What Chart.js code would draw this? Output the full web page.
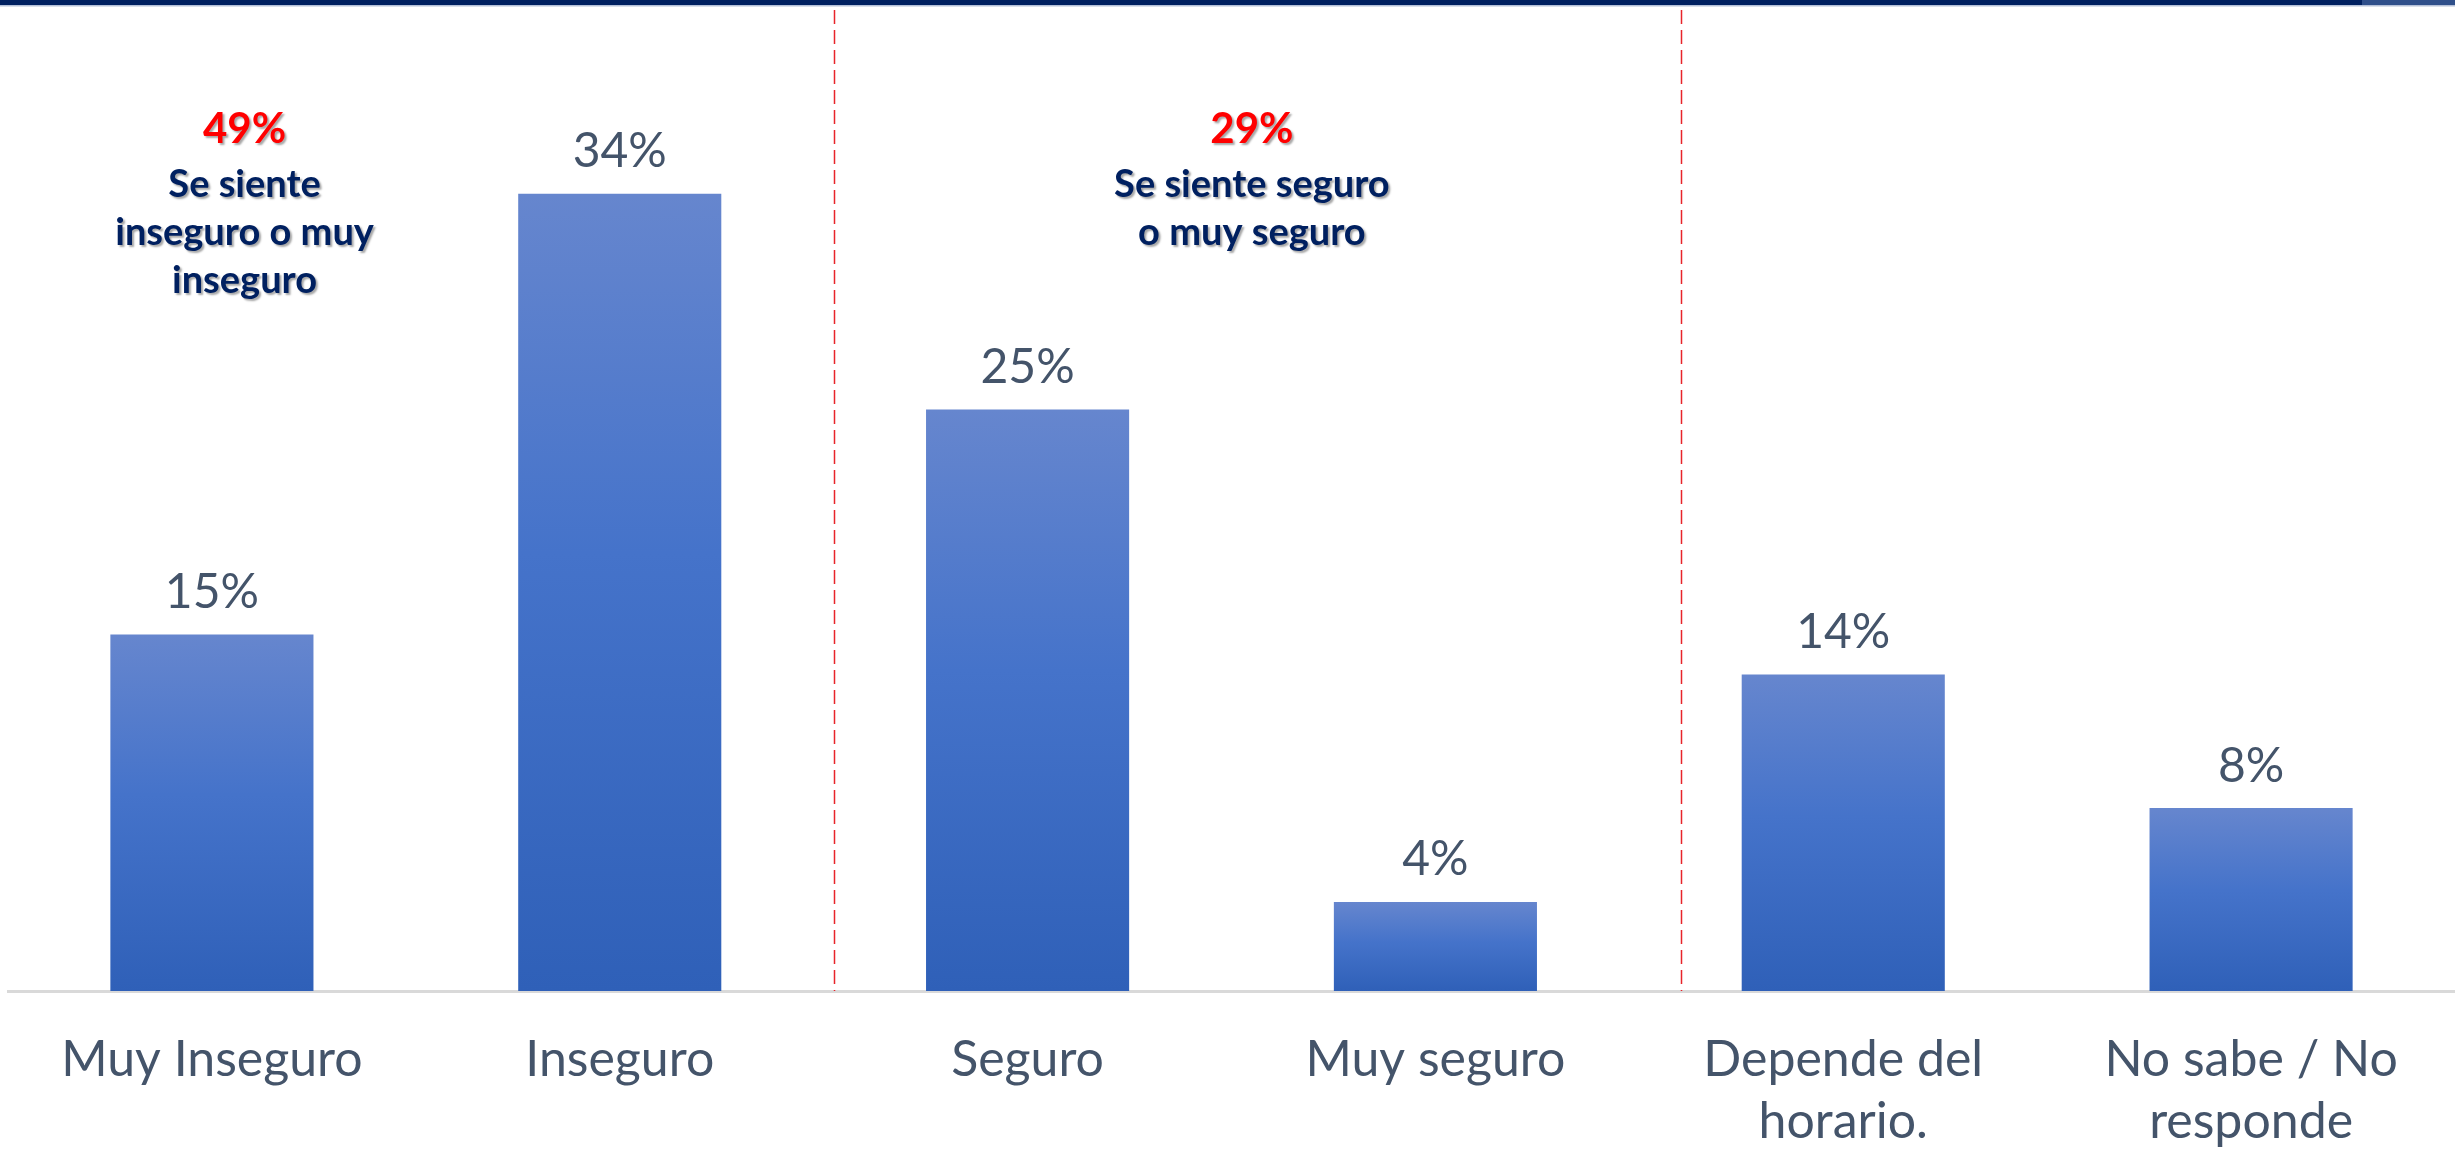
<!DOCTYPE html>
<html>
<head>
<meta charset="utf-8">
<script src="https://cdn.jsdelivr.net/npm/chart.js@4.4.1/dist/chart.umd.min.js"></script>
<style>
  html, body { margin: 0; padding: 0; background: #ffffff; }
  #wrap { width: 2455px; height: 1152px; position: relative; }
</style>
</head>
<body>
<div id="wrap"><canvas id="chart" width="2455" height="1152"></canvas></div>
<script>
var categories = [['Muy Inseguro'], ['Inseguro'], ['Seguro'], ['Muy seguro'], ['Depende del', 'horario.'], ['No sabe / No', 'responde']];
var values = [15.2, 34, 24.8, 3.8, 13.5, 7.8]; // percent (labels are rounded)
var groupTotals = ['49%', '29%'];
var groupTexts = [['Se siente', 'inseguro o muy', 'inseguro'], ['Se siente seguro', 'o muy seguro']];
var groupPos = [0.08, 2.55]; // category index where each group note sits
var dividerPos = [1.525, 3.602]; // category index of the red dashed lines

var labelColor = '#44546A';

function barGradient(context) {
  var chart = context.chart;
  var y = chart.scales.y;
  if (!y || context.raw == null) return '#4472C4';
  var top = y.getPixelForValue(context.raw);
  var base = y.getPixelForValue(0);
  if (!isFinite(top) || !isFinite(base) || top === base) return '#4472C4';
  var g = chart.ctx.createLinearGradient(0, top, 0, base);
  g.addColorStop(0, '#6686CE');
  g.addColorStop(0.45, '#4573CA');
  g.addColorStop(1, '#2F60B8');
  return g;
}

// header strip, dividers, value labels and group notes
var decorations = {
  id: 'decorations',
  beforeDraw: function (chart) {
    var ctx = chart.ctx;
    ctx.save();
    ctx.fillStyle = '#002060';
    ctx.fillRect(0, 0, chart.width, 5);
    ctx.fillStyle = '#2F4F8A';
    ctx.fillRect(2362, 0, chart.width - 2362, 5);
    ctx.fillStyle = '#B4C0D8';
    ctx.fillRect(0, 5, chart.width, 1.5);
    ctx.restore();
  },
  afterDatasetsDraw: function (chart) {
    var ctx = chart.ctx;
    var x = chart.scales.x;
    var area = chart.chartArea;
    ctx.save();

    // red dashed dividers
    ctx.strokeStyle = '#E8242B';
    ctx.lineWidth = 1.5;
    ctx.setLineDash([14, 6]);
    dividerPos.forEach(function (p) {
      var px = Math.round(x.getPixelForValue(p)) + 0.5;
      ctx.beginPath();
      ctx.moveTo(px, 10);
      ctx.lineTo(px, area.bottom);
      ctx.stroke();
    });
    ctx.setLineDash([]);

    // value labels
    ctx.fillStyle = labelColor;
    ctx.font = '48px Lato';
    ctx.textAlign = 'center';
    ctx.textBaseline = 'middle';
    chart.getDatasetMeta(0).data.forEach(function (bar, i) {
      ctx.fillText(Math.round(values[i]) + '%', bar.x, bar.y - 42);
    });

    // group notes
    ctx.shadowColor = 'rgba(0,0,0,0.35)';
    ctx.shadowOffsetX = 2;
    ctx.shadowOffsetY = 2;
    ctx.shadowBlur = 2;
    groupTotals.forEach(function (t, gi) {
      var cx = x.getPixelForValue(groupPos[gi]);
      ctx.font = 'bold 42px Lato';
      ctx.fillStyle = '#FF0000';
      ctx.fillText(t, cx, 129);
      ctx.font = 'bold 38px Lato';
      ctx.fillStyle = '#002060';
      groupTexts[gi].forEach(function (line, li) {
        ctx.fillText(line, cx, 185 + li * 48);
      });
    });
    ctx.restore();
  }
};

function build() {
  var ctx = document.getElementById('chart').getContext('2d');
  window.myChart = new Chart(ctx, {
    type: 'bar',
    data: {
      labels: categories,
      datasets: [{
        label: 'Percepción de seguridad',
        data: values,
        backgroundColor: barGradient,
        borderWidth: 0,
        barPercentage: 0.498,
        categoryPercentage: 1
      }]
    },
    options: {
      responsive: false,
      animation: false,
      devicePixelRatio: 1,
      layout: { padding: { top: 53, left: 8, right: 0, bottom: 0 } },
      plugins: {
        legend: { display: false },
        tooltip: { enabled: false }
      },
      scales: {
        x: {
          grid: { display: false, drawTicks: false },
          border: { display: true, color: '#D9D9D9', width: 3 },
          ticks: {
            color: labelColor,
            font: { family: 'Lato', size: 50, lineHeight: 1.24 },
            padding: 38,
            maxRotation: 0,
            autoSkip: false
          },
          afterFit: function (scale) { scale.height = 161; }
        },
        y: {
          display: false,
          min: 0,
          max: 40
        }
      }
    },
    plugins: [decorations]
  });
}

Promise.all([
  document.fonts.load('50px Lato'),
  document.fonts.load('bold 38px Lato')
]).then(build, build);
</script>
</body>
</html>
